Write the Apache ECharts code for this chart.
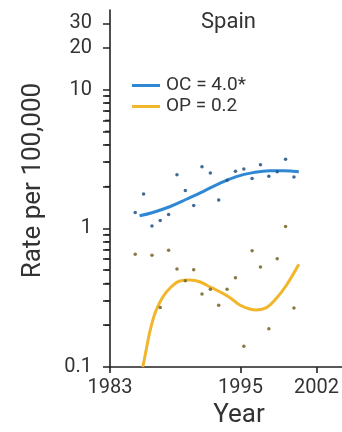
<!DOCTYPE html>
<html>
<head>
<meta charset="utf-8">
<script src="https://cdn.jsdelivr.net/npm/echarts@6/dist/echarts.min.js"></script>
<style>
html,body{margin:0;padding:0;background:#fff;}
#c{width:342px;height:432px;}
</style>
</head>
<body>
<div id="c"></div>
<script>
// ---- data ----
const pointYears = [1985.32, 1986.09, 1986.86, 1987.62, 1988.39, 1989.16, 1989.93, 1990.70, 1991.46, 1992.23,
                    1993.00, 1993.77, 1994.54, 1995.31, 1996.07, 1996.84, 1997.61, 1998.38, 1999.15, 1999.92];
const ocRates = [1.30, 1.77, 1.04, 1.14, 1.26, 2.43, 1.87, 1.46, 2.78, 2.50,
                 1.60, 2.22, 2.58, 2.68, 2.29, 2.87, 2.37, 2.56, 3.15, 2.34];
const opRates = [0.649, null, 0.639, 0.268, 0.694, 0.509, 0.419, 0.503, 0.336, 0.363,
                 0.279, 0.363, 0.440, 0.141, 0.690, 0.526, 0.189, 0.604, 1.03, 0.266];
const ocFitYears = [1985.72, 1986.94, 1988.48, 1990.02, 1991.55, 1993.09, 1994.63, 1996.16, 1997.70, 1998.93, 2000.37];
const ocFitRates = [1.23, 1.30, 1.43, 1.62, 1.84, 2.11, 2.36, 2.52, 2.60, 2.60, 2.56];
const opFitYears = [1986.02, 1986.36, 1986.64, 1986.94, 1987.26, 1987.87, 1988.64, 1989.41, 1990.33, 1991.25,
                    1992.17, 1993.09, 1994.01, 1994.93, 1995.85, 1996.47, 1997.39, 1998.31, 1999.24, 2000.37];
const opFitRates = [0.100, 0.137, 0.176, 0.218, 0.258, 0.321, 0.379, 0.417, 0.424, 0.412,
                    0.379, 0.349, 0.317, 0.280, 0.262, 0.258, 0.268, 0.313, 0.390, 0.550];
const xTickLabels = [1983, 1995, 2002];
const yTickLabels = [0.1, 1, 10, 20, 30];
const yMinorTicks = [0.2, 0.3, 0.4, 0.5, 0.6, 0.7, 0.8, 0.9, 2, 3, 4, 5, 6, 7, 8, 9];
const seriesNames = ['OC = 4.0*', 'OP = 0.2'];
const chartTitle = 'Spain';
const xTitle = 'Year';
const yTitle = 'Rate per 100,000';

// ---- build ----
const blue = '#2f88d4', gold = '#f1b62c';
const font = 'Roboto';
const xMin = 1983, xMax = 2004.34;
const pairs = (xs, ys) => xs.map((x, i) => [x, ys[i]]).filter(p => p[1] != null);
const allYTicks = yTickLabels.concat(yMinorTicks).sort((a, b) => a - b);

const chart = echarts.init(document.getElementById('c'), null, {renderer: 'canvas'});
chart.setOption({
  animation: false,
  backgroundColor: '#fff',
  textStyle: {fontFamily: font},
  title: {
    text: chartTitle, left: 201, top: 11, padding: 0,
    textStyle: {fontFamily: font, fontSize: 22, fontWeight: 'normal', color: '#333'}
  },
  legend: {
    data: seriesNames, orient: 'vertical', left: 132, top: 76, padding: 0,
    itemWidth: 28, itemHeight: 3, itemGap: 2, icon: 'rect',
    textStyle: {fontFamily: font, fontSize: 19, color: '#333', padding: [0, 0, 0, 1]}
  },
  grid: {left: 110, right: 0, top: 10, bottom: 65, containLabel: false, outerBoundsMode: 'none'},
  xAxis: {
    type: 'value', min: xMin, max: xMax,
    name: xTitle, nameLocation: 'middle', nameGap: 33,
    nameTextStyle: {fontFamily: font, fontSize: 26, color: '#333', padding: [0, 0, 0, 26]},
    axisLine: {lineStyle: {color: '#222', width: 1.6}},
    axisTick: {customValues: xTickLabels, length: 6, lineStyle: {color: '#222', width: 1.6}},
    axisLabel: {customValues: xTickLabels, margin: 11, fontFamily: font, fontSize: 20, color: '#333',
                formatter: v => String(Math.round(v))},
    splitLine: {show: false}
  },
  yAxis: {
    type: 'log', logBase: 10, min: 0.1, max: 37.5,
    name: yTitle, nameLocation: 'middle', nameGap: 64,
    nameTextStyle: {fontFamily: font, fontSize: 26, color: '#333', padding: [0, 0, 0, 16]},
    axisLine: {show: true, lineStyle: {color: '#222', width: 1.6}},
    axisTick: {customValues: allYTicks, length: 7, lineStyle: {color: '#222', width: 1.5}},
    axisLabel: {customValues: yTickLabels, margin: 18, fontFamily: font, fontSize: 20, color: '#333',
                formatter: v => String(Number(Number(v).toPrecision(3)))},
    splitLine: {show: false}, minorTick: {show: false}
  },
  series: [
    {name: seriesNames[0], type: 'line', data: pairs(ocFitYears, ocFitRates), smooth: 0.4,
     showSymbol: false, lineStyle: {color: blue, width: 3}, itemStyle: {color: blue}, z: 3},
    {name: seriesNames[1], type: 'line', data: pairs(opFitYears, opFitRates), smooth: 0.4,
     showSymbol: false, lineStyle: {color: gold, width: 3}, itemStyle: {color: gold}, z: 3},
    {name: 'OC points', type: 'scatter', data: pairs(pointYears, ocRates), symbolSize: 3.5,
     itemStyle: {color: '#2b5987', opacity: 0.9}, z: 4},
    {name: 'OP points', type: 'scatter', data: pairs(pointYears, opRates), symbolSize: 3.5,
     itemStyle: {color: '#7a6a30', opacity: 0.9}, z: 4}
  ]
});

// minor ticks of the log axis, positioned through the axis scale (backup drawing)
const axisX = chart.convertToPixel({xAxisIndex: 0}, xMin);
chart.setOption({
  graphic: yMinorTicks.map(v => {
    const py = chart.convertToPixel({yAxisIndex: 0}, v);
    return {type: 'line', silent: true, z: 100,
            shape: {x1: axisX - 5, y1: py, x2: axisX, y2: py},
            style: {stroke: '#222', lineWidth: 1.4}};
  })
});
</script>
</body>
</html>
